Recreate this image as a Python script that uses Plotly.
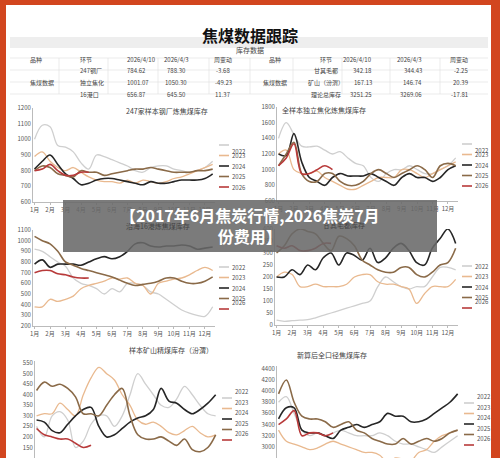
import plotly.graph_objects as go

W, H = 500, 458

months = [f"{m}月" for m in range(1, 13)]
x_full = [1 + 0.5 * i for i in range(24)]
x_2026 = [1 + 0.5 * i for i in range(8)]
years = ["2022", "2023", "2024", "2025", "2026"]
colors = ["#cfcfcf", "#e9b98f", "#262626", "#8a6a48", "#b83a3a"]

# 247家样本钢厂炼焦煤库存
steel = [
    [1000, 1090, 1080, 960, 950, 920, 850, 810, 900, 890, 870, 850, 830, 800, 790, 820, 830, 830, 810, 800, 790, 800, 820, 860],
    [890, 920, 860, 820, 800, 820, 790, 760, 740, 730, 730, 720, 740, 720, 740, 730, 720, 730, 750, 760, 780, 800, 820, 840],
    [810, 860, 900, 840, 780, 750, 710, 720, 740, 750, 750, 740, 730, 720, 710, 730, 720, 720, 730, 740, 740, 740, 750, 780],
    [800, 830, 820, 780, 770, 760, 800, 790, 790, 770, 780, 790, 800, 810, 810, 820, 810, 800, 790, 790, 790, 800, 800, 810],
    [800, 810, 840, 800, 770, 770, 790, 790],
]
# 全样本独立焦化炼焦煤库存
coking = [
    [1400, 1600, 1450, 1300, 1290, 1300, 1250, 1200, 1230, 1150, 1080, 1050, 900, 850, 950, 1000, 1000, 1050, 1000, 950, 950, 1000, 1050, 1150],
    [1200, 1250, 1000, 950, 950, 980, 900, 850, 800, 750, 750, 800, 850, 900, 900, 900, 1000, 1000, 950, 900, 950, 1000, 1050, 1100],
    [1200, 1180, 1460, 1100, 900, 850, 800, 900, 950, 920, 920, 920, 950, 900, 850, 800, 900, 950, 900, 900, 850, 900, 1000, 1050],
    [1050, 1200, 1350, 950, 850, 850, 950, 950, 850, 800, 800, 850, 950, 1000, 950, 900, 950, 1000, 1050, 1000, 900, 1050, 1080, 1050],
    [1050, 1150, 1330, 950, 950, 1000, 1050, 1000],
]
# 沿海16港炼焦煤库存
port = [
    [920, 900, 850, 800, 760, 650, 600, 580, 550, 500, 550, 520, 600, 600, 580, 520, 500, 450, 400, 350, 320, 300, 290, 380],
    [380, 380, 450, 430, 450, 480, 550, 580, 600, 620, 650, 640, 650, 600, 580, 500, 600, 620, 640, 650, 680, 720, 750, 720],
    [780, 820, 750, 780, 780, 780, 770, 800, 830, 850, 830, 850, 900, 970, 980, 950, 940, 950, 950, 960, 950, 920, 930, 940],
    [1040, 1000, 970, 900, 800, 770, 740, 720, 700, 680, 660, 630, 600, 580, 590, 600, 620, 650, 650, 620, 600, 600, 620, 660],
    [700, 720, 720, 690, 680, 660, 650, 650],
]
# 甘其毛都库存
gqmd = [
    [20, 15, 18, 20, 22, 30, 40, 50, 60, 70, 80, 90, 100, 160, 200, 180, 160, 150, 160, 160, 200, 240, 240, 230],
    [200, 220, 210, 160, 160, 170, 160, 160, 160, 170, 200, 210, 210, 180, 170, 170, 160, 150, 90, 130, 160, 160, 160, 190],
    [200, 200, 230, 210, 250, 230, 280, 300, 250, 300, 290, 270, 320, 260, 280, 320, 340, 310, 260, 250, 320, 360, 400, 340],
    [300, 330, 380, 400, 390, 380, 340, 310, 370, 360, 330, 270, 250, 230, 220, 220, 240, 240, 210, 200, 220, 250, 260, 320],
    [330, 320, 330, 310, 310, 320, 340, 340],
]
# 样本矿山精煤库存（汾渭）
mine = [
    [250, 200, 300, 320, 280, 150, 180, 260, 300, 300, 250, 300, 400, 500, 450, 400, 350, 340, 380, 440, 400, 350, 310, 300],
    [300, 310, 310, 360, 330, 300, 400, 480, 530, 500, 470, 400, 350, 280, 260, 270, 250, 220, 210, 230, 250, 220, 200, 210],
    [280, 270, 230, 220, 260, 300, 330, 340, 250, 200, 210, 240, 270, 290, 300, 330, 430, 370, 360, 330, 310, 330, 360, 400],
    [420, 460, 440, 450, 430, 390, 310, 310, 300, 350, 400, 430, 300, 210, 190, 190, 200, 180, 160, 190, 140, 130, 150, 210],
    [240, 210, 200, 190, 190, 170, 150, 160],
]
# 新算后全口径焦煤库存
total = [
    [3800, 3900, 3600, 3300, 3200, 3250, 3200, 3250, 3300, 3250, 3200, 3200, 3200, 3250, 3200, 3100, 3050, 3050, 3000, 2950, 2900, 3000, 3100, 3200],
    [3300, 3100, 3050, 3000, 2950, 2980, 3050, 3100, 3050, 3000, 2950, 2900, 2900, 2850, 2720, 2800, 2780, 2750, 2900, 2950, 3100, 3200, 3250, 3300],
    [3500, 3700, 3700, 3300, 3250, 3250, 3200, 3150, 3300, 3350, 3400, 3350, 3400, 3450, 3600, 3550, 3550, 3450, 3450, 3500, 3600, 3700, 3800, 3950],
    [3950, 4200, 3800, 3550, 3500, 3500, 3450, 3350, 3400, 3450, 3300, 3250, 3150, 3100, 3050, 3050, 3150, 3050, 3100, 3150, 3100, 3150, 3250, 3300],
    [3400, 3500, 3650, 3200, 3250, 3250, 3200, 3250],
]

charts = [
    ("247家样本钢厂炼焦煤库存", steel, [600, 1200], 100, (33, 215, 108, 202)),
    ("全样本独立焦化炼焦煤库存", coking, [600, 1800], 200, (277, 458, 107, 201)),
    ("沿海16港炼焦煤库存", port, [200, 1100], 100, (33, 215, 230, 326)),
    ("甘其毛都库存", gqmd, [0, 400], 50, (275, 458, 229, 325)),
    ("样本矿山精煤库存（汾渭）", mine, [100, 560], 50, (35, 218, 361, 458)),
    ("新算后全口径焦煤库存", total, [2800, 4450], 200, (277, 460, 366, 458)),
]

table_left = [
    ["焦煤数据", "247钢厂", "784.62", "788.30", "-3.68"],
    ["", "独立焦化", "1001.07", "1050.30", "-49.23"],
    ["", "16港口", "656.87", "645.50", "11.37"],
]
table_right = [
    ["焦煤数据", "甘其毛都", "342.18", "344.43", "-2.25"],
    ["", "矿山（汾渭）", "167.13", "146.74", "20.39"],
    ["", "理论总库存", "3251.25", "3269.06", "-17.81"],
]
headers = ["品种", "环节", "2026/4/10", "2026/4/3", "周变动"]


def px(x):
    return x / W


def py(y):
    return 1 - y / H


fig = go.Figure()
layout = {}
shapes = [dict(type="rect", xref="paper", yref="paper", x0=px(6), x1=px(491), y0=0, y1=py(5),
               fillcolor="white", line=dict(width=0), layer="below")]
annotations = []
font = "Noto Sans CJK SC"

for i, (title, series, yr, dtick, (x0, x1, y0, y1)) in enumerate(charts):
    n = "" if i == 0 else str(i + 1)
    for k, (yname, col) in enumerate(zip(years, colors)):
        xs = x_2026 if yname == "2026" else x_full
        fig.add_trace(go.Scatter(
            x=xs, y=series[k], mode="lines", name=yname,
            line=dict(color=col, width=1.6 if k >= 2 else 1.3, shape="spline"),
            xaxis=f"x{n}", yaxis=f"y{n}", showlegend=False,
        ))
        # legend key drawn beside the plot
        ly = y0 + 37 + 10.5 * k
        shapes.append(dict(type="line", xref="paper", yref="paper", x0=px(x1 + 4), x1=px(x1 + 14),
                           y0=py(ly), y1=py(ly), line=dict(color=col, width=1.6)))
        annotations.append(dict(text=yname, x=px(x1 + 15), y=py(ly), xref="paper", yref="paper",
                                xanchor="left", showarrow=False, font=dict(size=6, color="#555")))
    layout[f"xaxis{n}"] = dict(
        domain=[px(x0), px(x1)], range=[0.9, 12.65], anchor=f"y{n}",
        tickvals=list(range(1, 13)), ticktext=months, showgrid=False,
        showline=True, linecolor="#bbbbbb", ticks="outside", ticklen=2,
        tickcolor="#bbbbbb", tickfont=dict(size=6, color="#555"), zeroline=False,
    )
    layout[f"yaxis{n}"] = dict(
        domain=[max(0, py(y1)), py(y0)], range=yr, anchor=f"x{n}", dtick=dtick,
        showgrid=False, showline=True, linecolor="#bbbbbb",
        tickfont=dict(size=6, color="#555"), zeroline=False,
    )
    annotations.append(dict(text=title, x=px((x0 + x1) / 2), y=py(y0 - 4), xref="paper", yref="paper",
                            showarrow=False, font=dict(size=7, color="#444", family=font)))

# title and table
annotations.append(dict(text="<b>焦煤数据跟踪</b>", x=0.5, y=py(21), xref="paper", yref="paper",
                        showarrow=False, font=dict(size=16, color="#111", family=font)))
shapes.append(dict(type="rect", xref="paper", yref="paper", x0=px(10), x1=px(488), y0=py(48), y1=py(37),
                   fillcolor="#eeeeee", line=dict(width=0), layer="below"))
annotations.append(dict(text="库存数据", x=0.5, y=py(43), xref="paper", yref="paper", showarrow=False,
                        font=dict(size=7, color="#444", family=font)))
for hx in (59, 108, 158, 209, 293, 342, 390, 440, 250):
    shapes.append(dict(type="line", xref="paper", yref="paper", x0=px(hx), x1=px(hx), y0=py(94), y1=py(58),
                       line=dict(color="#dddddd", width=0.6)))
for hy in (58, 70, 82, 94):
    shapes.append(dict(type="line", xref="paper", yref="paper", x0=px(10), x1=px(488), y0=py(hy), y1=py(hy),
                       line=dict(color="#dddddd", width=0.6)))
col_left = [28, 78, 125, 176, 223]
col_right = [275, 326, 374, 424, 470]
for cols, rows in ((col_left, table_left), (col_right, table_right)):
    for cx, h in zip(cols, headers):
        annotations.append(dict(text=h, x=px(cx), y=py(53), xref="paper", yref="paper", showarrow=False,
                                font=dict(size=6, color="#444", family=font)))
    for r, row in enumerate(rows):
        for c, (cx, val) in enumerate(zip(cols, row)):
            yy = 76 if c == 0 else 64 + 12 * r
            if c == 0 and r > 0:
                continue
            annotations.append(dict(text=val, x=px(cx), y=py(yy), xref="paper", yref="paper", showarrow=False,
                                    font=dict(size=6, color="#444", family=font)))

# overlay banner
shapes.append(dict(type="rect", xref="paper", yref="paper", x0=px(63), x1=px(437), y0=py(252), y1=py(200),
                   fillcolor="rgba(105,105,105,0.88)", line=dict(width=0), layer="above"))
annotations.append(dict(text="<b>【2017年6月焦炭行情,2026焦炭7月<br>份费用】</b>", x=0.5, y=py(226),
                        xref="paper", yref="paper", showarrow=False, align="center",
                        font=dict(size=16, color="white", family=font)))

fig.update_layout(
    **layout,
    width=W, height=H, margin=dict(l=0, r=0, t=0, b=0, autoexpand=False),
    paper_bgcolor="#d2461f", plot_bgcolor="white",
    shapes=shapes, annotations=annotations,
    font=dict(family=font),
)

fig.write_html("out.html", config={"displayModeBar": False},
               post_script="document.body.style.margin='0';document.body.style.overflow='hidden';")
